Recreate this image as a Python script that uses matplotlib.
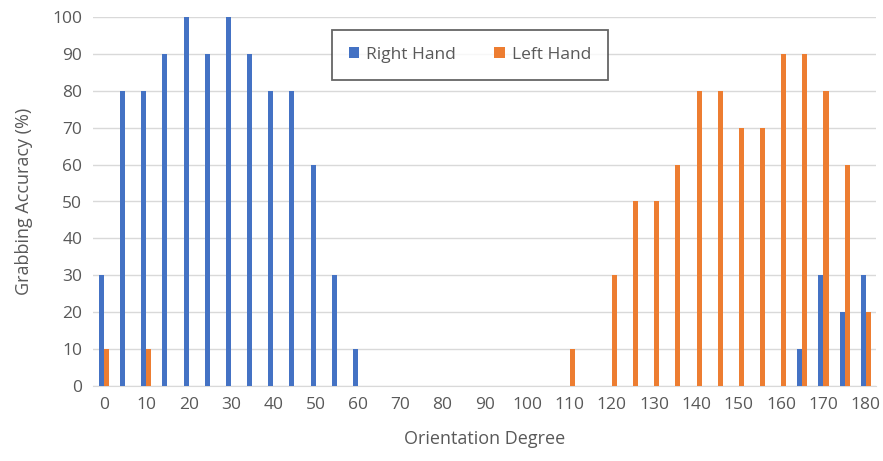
import numpy as np
import matplotlib.pyplot as plt

# Orientation categories (degrees) and grabbing accuracy per hand
degrees = list(range(0, 185, 5))
right_hand = [30, 80, 80, 90, 100, 90, 100, 90, 80, 80, 60, 30, 10,
              0, 0, 0, 0, 0, 0, 0, 0, 0, 0, 0, 0, 0, 0, 0, 0, 0, 0, 0, 0,
              10, 30, 20, 30]
left_hand = [10, 0, 10, 0, 0, 0, 0, 0, 0, 0, 0, 0, 0,
             0, 0, 0, 0, 0, 0, 0, 0, 0, 10, 0, 30, 50, 50, 60, 80, 80, 70, 70, 90,
             90, 80, 60, 20]
tick_labels = [str(d) if d % 10 == 0 else '' for d in degrees]

plt.rcParams['font.family'] = ['Open Sans', 'DejaVu Sans']
text_grey = '#595959'

fig = plt.figure(figsize=(8.83, 4.61), dpi=100)
ax = fig.add_axes([93.4 / 883, (461 - 386) / 461, 783 / 883, 369 / 461])

x = np.arange(len(degrees))
w = 0.24
ax.bar(x - w / 2, right_hand, width=w, color='#4472C4', label='Right Hand', zorder=3)
ax.bar(x + w / 2, left_hand, width=w, color='#ED7D31', label='Left Hand', zorder=3)

ax.set_xlim(-0.5, len(degrees) - 0.5)
ax.set_ylim(0, 100)
ax.set_yticks(range(0, 101, 10))
ax.set_xticks(x)
ax.set_xticklabels(tick_labels)
ax.tick_params(axis='both', length=0, labelsize=12.5, colors=text_grey, pad=8)
ax.yaxis.grid(True, color='#d9d9d9', linewidth=1, zorder=0)
for side in ['top', 'right', 'left']:
    ax.spines[side].set_visible(False)
ax.spines['bottom'].set_color('#d9d9d9')

ax.set_xlabel('Orientation Degree', fontsize=13, color=text_grey, labelpad=12)
ax.set_ylabel('Grabbing Accuracy (%)', fontsize=13, color=text_grey, labelpad=14)

leg = ax.legend(loc='center', bbox_to_anchor=(0.481, 0.897), ncol=2, fontsize=12.5,
                frameon=True, fancybox=False, handlelength=0.6, handleheight=0.6,
                columnspacing=2.2, borderpad=1.0, borderaxespad=0, handletextpad=0.4)
leg.get_frame().set_edgecolor('#404040')
leg.get_frame().set_linewidth(1.3)
for t in leg.get_texts():
    t.set_color(text_grey)

fig.savefig('out.png', dpi=100)
